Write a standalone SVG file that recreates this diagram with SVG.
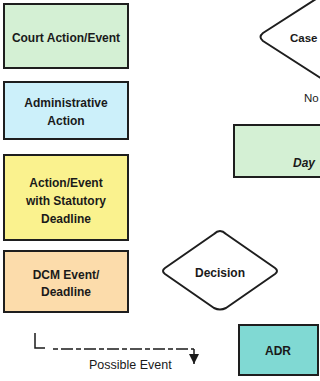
<svg xmlns="http://www.w3.org/2000/svg" width="320" height="381" viewBox="0 0 320 381">
<defs>
<style>
.box{stroke:#1e1e1e;stroke-width:2}
.dia{fill:#fff;stroke:#1e1e1e;stroke-width:2;stroke-linejoin:round}
.t{font-family:"Liberation Sans",Arial,sans-serif;font-size:12px;font-weight:bold;fill:#1a1a1a;text-anchor:middle}
.tl{font-family:"Liberation Sans",Arial,sans-serif;font-size:12px;fill:#1a1a1a}
</style>
<marker id="ah" viewBox="0 0 10 10" refX="10" refY="5" markerWidth="10" markerHeight="10" orient="auto" markerUnits="userSpaceOnUse">
<path d="M0,0 L10,5 L0,10 Z" fill="#1a1a1a"/>
</marker>
</defs>
<rect width="320" height="381" fill="#fff"/>
<g id="court">
<rect class="box" x="4" y="4" width="124" height="64" fill="#d4f0d4"/>
<text class="t" x="66" y="42">Court Action/Event</text>
</g>
<g id="admin">
<rect class="box" x="4" y="82" width="124" height="57" fill="#ccf0fa"/>
<text class="t" x="66" y="107">Administrative</text>
<text class="t" x="66" y="125">Action</text>
</g>
<g id="statutory">
<rect class="box" x="4" y="155" width="124" height="85" fill="#faf28e"/>
<text class="t" x="66" y="187">Action/Event</text>
<text class="t" x="66" y="205">with Statutory</text>
<text class="t" x="66" y="223">Deadline</text>
</g>
<g id="dcm">
<rect class="box" x="4" y="251" width="124" height="61" fill="#fcdcab"/>
<text class="t" x="66" y="279">DCM Event/</text>
<text class="t" x="66" y="296">Deadline</text>
</g>
<g id="decision">
<path class="dia" d="M220,231 Q223,231 226,234 L275,268 Q279,271 275,274 L226,308 Q220,311 214,308 L165,274 Q161,271 165,268 L214,234 Q217,231 220,231 Z"/>
<text class="t" x="220" y="277">Decision</text>
</g>
<g id="adr">
<rect class="box" x="239" y="325" width="79" height="50" fill="#80d9d3"/>
<text class="t" x="278" y="355">ADR</text>
</g>
<g id="case">
<path class="dia" d="M330,-10 L263,33 Q258,37 263,41 L330,84"/>
<text class="tl" x="290" y="42" style="font-weight:bold;font-size:11.5px">Case</text>
</g>
<g id="no">
<text class="tl" x="304" y="102" style="font-size:11.5px">No</text>
</g>
<g id="day">
<rect class="box" x="234" y="125" width="100" height="52" fill="#d4f0d4"/>
<text class="tl" x="293" y="167" style="font-weight:bold;font-style:italic">Day</text>
</g>
<g id="connectors">
<path d="M35,333 L35,348 L45,348" fill="none" stroke="#1a1a1a" stroke-width="1.5"/>
<path d="M53,349 L194,349" fill="none" stroke="#1a1a1a" stroke-width="1.5" stroke-dasharray="5,3,12,3"/>
<path d="M194,349 L194,364" fill="none" stroke="#1a1a1a" stroke-width="1.5" marker-end="url(#ah)"/>
<text class="tl" x="89" y="369" style="font-size:12.5px">Possible Event</text>
</g>
</svg>
